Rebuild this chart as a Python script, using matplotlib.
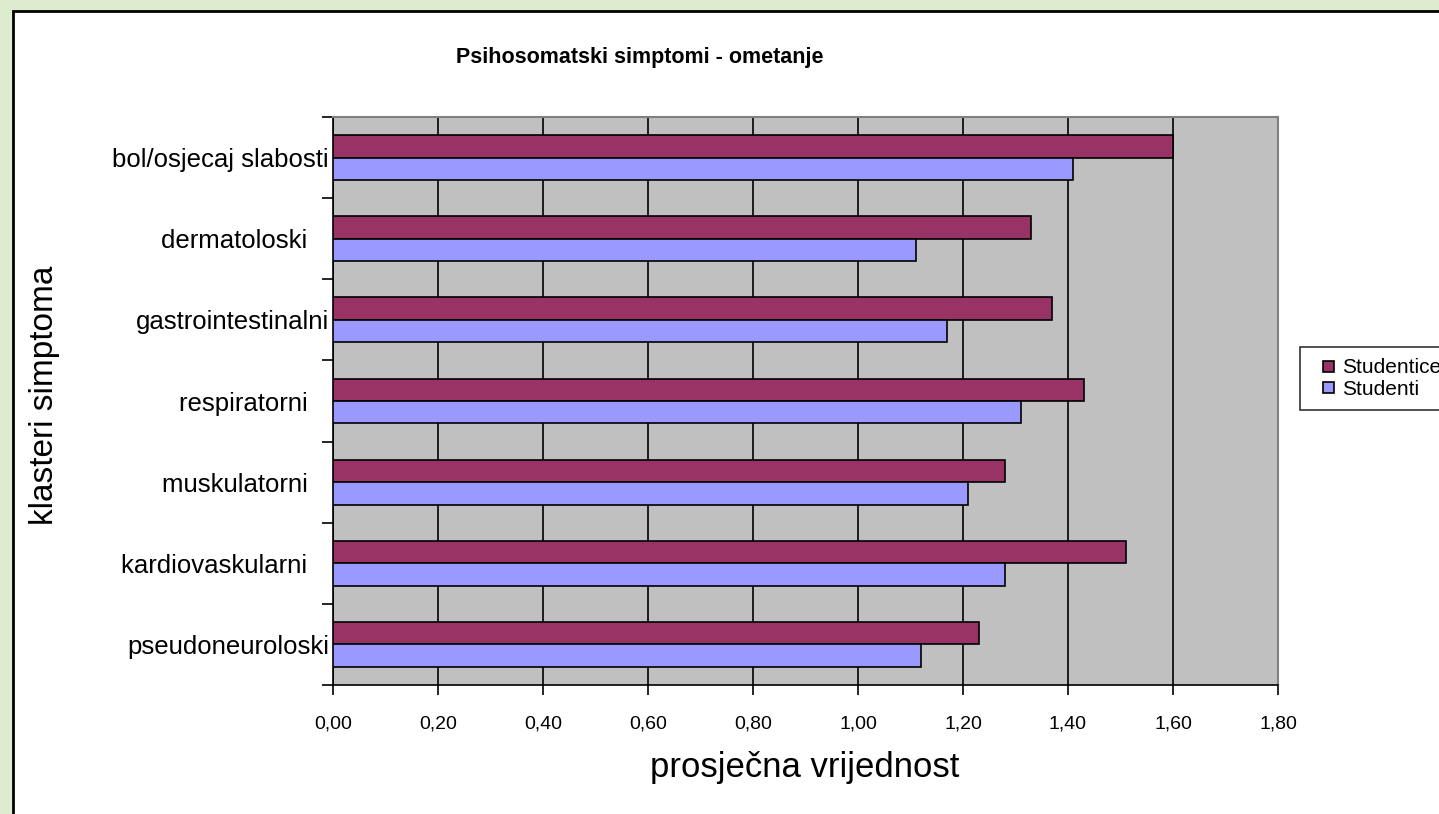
import matplotlib
matplotlib.use("Agg")
import matplotlib.pyplot as plt
from matplotlib.patches import Rectangle
from matplotlib.legend_handler import HandlerPatch
from matplotlib.ticker import FuncFormatter, FixedLocator

categories = ["bol/osjecaj slabosti", "dermatoloski   ", "gastrointestinalni", "respiratorni   ",
              "muskulatorni   ", "kardiovaskularni   ", "pseudoneuroloski"]
studentice = [1.60, 1.33, 1.37, 1.43, 1.28, 1.51, 1.23]
studenti = [1.41, 1.11, 1.17, 1.31, 1.21, 1.28, 1.12]
series_names = ["Studentice", "Studenti"]
series_colors = ["#993366", "#9999FF"]
x_ticks = [0.0, 0.2, 0.4, 0.6, 0.8, 1.0, 1.2, 1.4, 1.6, 1.8]

plt.rcParams['font.family'] = ['Liberation Sans', 'DejaVu Sans']

W, H = 1439, 814
fig = plt.figure(figsize=(W / 100, H / 100), dpi=100, facecolor="#DDEBCF")
fig.patches.append(Rectangle((13 / W, -0.05), 1.1, 1 - 11 / H + 0.05, transform=fig.transFigure,
                             facecolor="white", edgecolor="black", linewidth=2, zorder=-10))

ax = fig.add_axes([333 / W, 1 - 685 / H, (1278 - 333) / W, (685 - 117) / H])
ax.set_facecolor("#C0C0C0")

n = len(categories)
ypos = list(range(n))
h = 0.277
ax.barh([y - h / 2 for y in ypos], studentice, height=h, color=series_colors[0], edgecolor="black",
        linewidth=1.2, zorder=3)
ax.barh([y + h / 2 for y in ypos], studenti, height=h, color=series_colors[1], edgecolor="black",
        linewidth=1.2, zorder=3)

ax.set_xlim(0, 1.8)
ax.set_ylim(n - 0.5, -0.5)
ax.xaxis.set_major_locator(FixedLocator(x_ticks))
ax.xaxis.set_major_formatter(FuncFormatter(lambda v, p: f"{v:.2f}".replace(".", ",")))
ax.grid(axis="x", color="black", linewidth=1.2, zorder=1)
ax.set_axisbelow(True)

ax.yaxis.set_major_locator(FixedLocator([i - 0.5 for i in range(n + 1)]))
ax.yaxis.set_major_formatter(FuncFormatter(lambda v, p: ""))
ax.set_yticks(ypos, minor=True)
ax.set_yticklabels(categories, minor=True)
ax.tick_params(axis="y", which="minor", length=0, pad=3, labelsize=18.5)
ax.tick_params(axis="y", which="major", length=8, width=1.2, direction="out")
ax.tick_params(axis="x", which="major", length=7, width=1.2, direction="out", pad=15, labelsize=14)

for s in ["left", "bottom"]:
    ax.spines[s].set_color("black")
    ax.spines[s].set_linewidth(1.2)
for s in ["top", "right"]:
    ax.spines[s].set_color("#808080")
    ax.spines[s].set_linewidth(1.5)

fig.text(640 / W, 1 - 58 / H, "Psihosomatski simptomi - ometanje", ha="center", va="center",
         fontsize=15.5, fontweight="bold")
fig.text(805 / W, 1 - 768 / H, "prosječna vrijednost", ha="center", va="center", fontsize=25)
fig.text(45 / W, 1 - 395 / H, "klasteri simptoma", ha="center", va="center", fontsize=24,
         rotation=90)


def square_patch(legend, orig_handle, xdescent, ydescent, width, height, fontsize):
    s = 11 * 72 / 100
    return Rectangle((width - s - xdescent, (height - s) / 2 - ydescent), s, s)


handles = [Rectangle((0, 0), 1, 1, facecolor=c, edgecolor="black", linewidth=1.2)
           for c in series_colors]
leg = fig.legend(handles, series_names, loc="upper left",
                 bbox_to_anchor=(1300 / W, 1 - 347 / H), frameon=True,
                 fancybox=False, edgecolor="black", fontsize=15, handlelength=1.1,
                 handleheight=0.7, handletextpad=0.35, borderpad=0.55, labelspacing=0.12,
                 borderaxespad=0,
                 handler_map={Rectangle: HandlerPatch(patch_func=square_patch)})
leg.get_frame().set_linewidth(1.2)

fig.savefig("out.png", dpi=100, facecolor=fig.get_facecolor())
